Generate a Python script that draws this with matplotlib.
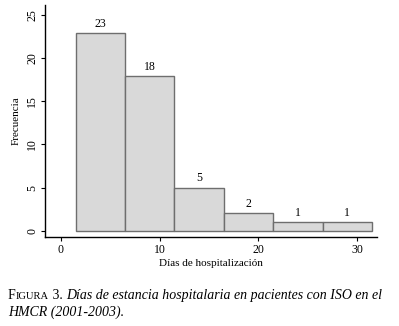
import matplotlib
matplotlib.use('Agg')
import matplotlib.pyplot as plt

plt.rcParams['font.family'] = ['Liberation Serif', 'DejaVu Serif']

# histogram data
bin_starts = [1.5, 6.5, 11.5, 16.5, 21.5, 26.5]
bin_width = 5
counts = [23, 18, 5, 2, 1, 1]
x_ticks = [0, 10, 20, 30]
y_ticks = [0, 5, 10, 15, 20, 25]

fig = plt.figure(figsize=(3.99, 3.26), dpi=100)
ax = fig.add_axes([45/399, (326-237)/326, (377-45)/399, (237-5)/326])

bars = ax.bar(bin_starts, counts, width=bin_width, align='edge',
              color='#d9d9d9', edgecolor='#6e6e6e', linewidth=1.0)
for x, c in zip(bin_starts, counts):
    ax.text(x + bin_width/2, c + 0.35, str(c), ha='center', va='bottom', fontsize=8.5)

ax.set_xlim(-1.6, 32)
ax.set_ylim(-0.75, 26.2)
ax.set_xticks(x_ticks)
ax.set_yticks(y_ticks)
ax.tick_params(axis='both', direction='out', length=3, width=0.8, labelsize=8.5, pad=2)
for lab in ax.get_yticklabels():
    lab.set_rotation(90)
    lab.set_va('center')
for s in ['top', 'right']:
    ax.spines[s].set_visible(False)
ax.spines['left'].set_linewidth(1.0)
ax.spines['bottom'].set_linewidth(1.0)
ax.set_ylabel('Frecuencia', fontsize=8, labelpad=4)
ax.set_xlabel('Días de hospitalización', fontsize=8, labelpad=2)

# caption with small caps "Figura"
fig.canvas.draw()
r = fig.canvas.get_renderer()
parts = [('F', 10, 'normal'), ('IGURA', 7.6, 'normal'), (' 3. ', 10, 'normal'),
         ('Días de estancia hospitalaria en pacientes con ISO en el', 10, 'italic')]
x = 8
y = 326 - 299
for txt, size, style in parts:
    t = fig.text(x/399, y/326, txt, fontsize=size, style=style, ha='left', va='baseline')
    x += t.get_window_extent(r).width
fig.text(8/399, (326-316)/326, 'HMCR (2001-2003).', fontsize=10, style='italic',
         ha='left', va='baseline')

fig.savefig('out.png', dpi=100)
